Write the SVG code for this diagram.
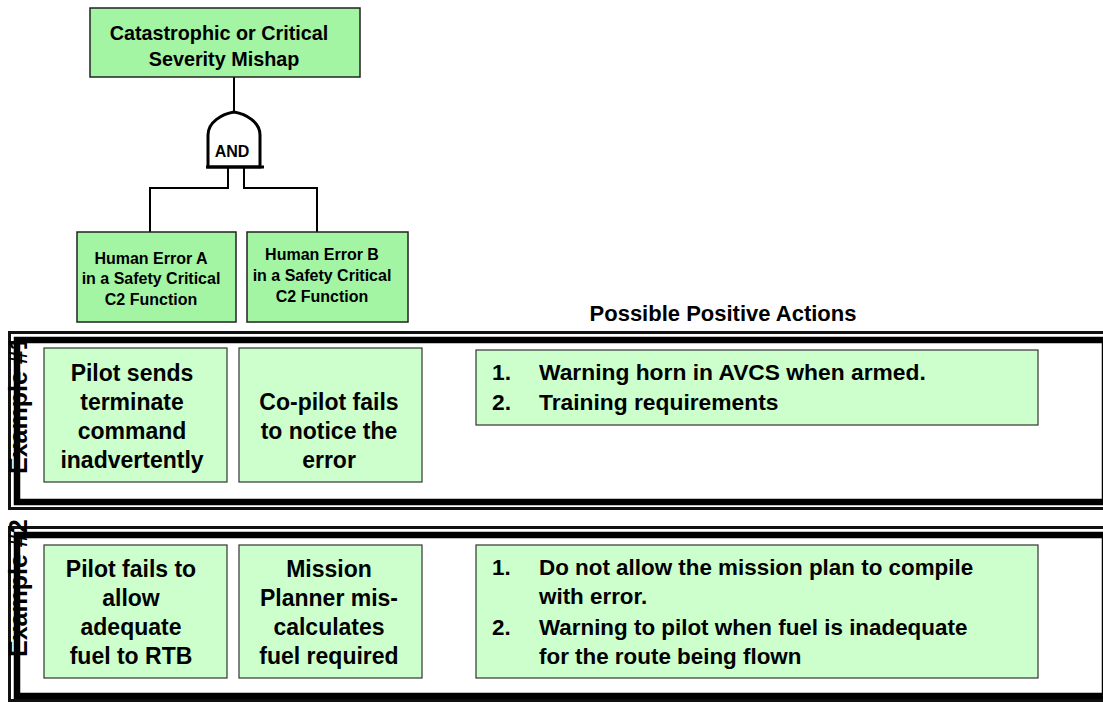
<svg xmlns="http://www.w3.org/2000/svg" width="1103" height="702" viewBox="0 0 1103 702">
<style>
text{font-family:"Liberation Sans",Arial,sans-serif;font-weight:bold;fill:#000}
.top{fill:#a3f5a3;stroke:#222;stroke-width:1.5}
.band{fill:#ccffcc;stroke:#333;stroke-width:1.2}
.wire{fill:none;stroke:#000;stroke-width:2}
.thin{fill:none;stroke:#111;stroke-width:3}
.thick{fill:none;stroke:#000;stroke-width:6.5}
.c{text-anchor:middle}
.t18{font-size:19.8px}
.t14{font-size:16px}
.t22{font-size:23px}
.t23{font-size:22.8px}
.t2b{font-size:22.4px}
.side{font-size:25px;font-weight:bold}
</style>
<rect width="1103" height="702" fill="#fff"/>

<g id="band1">
<rect class="thin" x="9.5" y="332.5" width="1200" height="176"/>
<rect class="thick" x="17" y="340" width="1088" height="162"/>
<text class="side" transform="translate(27,474) rotate(-90)">Example #1</text>
</g>
<g id="band2">
<rect class="thin" x="9.5" y="527.5" width="1200" height="173"/>
<rect class="thick" x="17" y="535" width="1088" height="161"/>
<text class="side" transform="translate(27,657) rotate(-90)">Example #2</text>
</g>

<g id="connectors">
<path class="wire" d="M234,77 V112"/>
<path class="wire" d="M228,167 V188 H150 V232"/>
<path class="wire" d="M244,167 V188 H317 V232"/>
</g>

<g id="top-event">
<rect class="top" x="90" y="8" width="270" height="69"/>
<text class="c t18" x="219" y="40">Catastrophic or Critical</text>
<text class="c t18" x="224" y="66">Severity Mishap</text>
</g>

<g id="and-gate">
<path d="M208,167 V135 C208,122 222,114 234,112 C246,114 260,122 260,135 V167 Z" fill="#fff" stroke="#000" stroke-width="3"/>
<path d="M206,167 H264" stroke="#000" stroke-width="3"/>
<text class="c" x="232" y="157" style="font-size:16px">AND</text>
</g>

<g id="error-a">
<rect class="top" x="77" y="232" width="159" height="90"/>
<text class="c t14" x="151" y="264">Human Error A</text>
<text class="c t14" x="151" y="284">in a Safety Critical</text>
<text class="c t14" x="151" y="305">C2 Function</text>
</g>
<g id="error-b">
<rect class="top" x="247" y="232" width="161" height="90"/>
<text class="c t14" x="322" y="260">Human Error B</text>
<text class="c t14" x="322" y="281">in a Safety Critical</text>
<text class="c t14" x="322" y="302">C2 Function</text>
</g>

<g id="title">
<text class="c" x="723" y="321" style="font-size:22px">Possible Positive Actions</text>
</g>

<g id="ex1-pilot">
<rect class="band" x="44" y="348" width="183" height="134"/>
<text class="c t22" x="132" y="381">Pilot sends</text>
<text class="c t22" x="132" y="410">terminate</text>
<text class="c t22" x="132" y="439">command</text>
<text class="c t22" x="132" y="468">inadvertently</text>
</g>
<g id="ex1-copilot">
<rect class="band" x="239" y="348" width="183" height="134"/>
<text class="c t22" x="329" y="410">Co-pilot fails</text>
<text class="c t22" x="329" y="439">to notice the</text>
<text class="c t22" x="329" y="468">error</text>
</g>
<g id="ex1-actions">
<rect class="band" x="476" y="350" width="562" height="75"/>
<text class="t23" x="492" y="380">1.</text>
<text class="t23" x="539" y="380">Warning horn in AVCS when armed.</text>
<text class="t23" x="492" y="410">2.</text>
<text class="t23" x="539" y="410">Training requirements</text>
</g>

<g id="ex2-pilot">
<rect class="band" x="44" y="545" width="183" height="133"/>
<text class="c t22" x="131" y="577">Pilot fails to</text>
<text class="c t22" x="131" y="606">allow</text>
<text class="c t22" x="131" y="635">adequate</text>
<text class="c t22" x="131" y="664">fuel to RTB</text>
</g>
<g id="ex2-planner">
<rect class="band" x="239" y="545" width="183" height="133"/>
<text class="c t22" x="329" y="577">Mission</text>
<text class="c t22" x="329" y="606">Planner  mis-</text>
<text class="c t22" x="329" y="635">calculates</text>
<text class="c t22" x="329" y="664">fuel required</text>
</g>
<g id="ex2-actions">
<rect class="band" x="476" y="545" width="562" height="133"/>
<text class="t2b" x="492" y="575">1.</text>
<text class="t2b" x="539" y="575">Do not allow the mission plan to compile</text>
<text class="t2b" x="539" y="604">with error.</text>
<text class="t2b" x="492" y="635">2.</text>
<text class="t2b" x="539" y="635">Warning to pilot when fuel is inadequate</text>
<text class="t2b" x="539" y="664">for the route being flown</text>
</g>
</svg>
